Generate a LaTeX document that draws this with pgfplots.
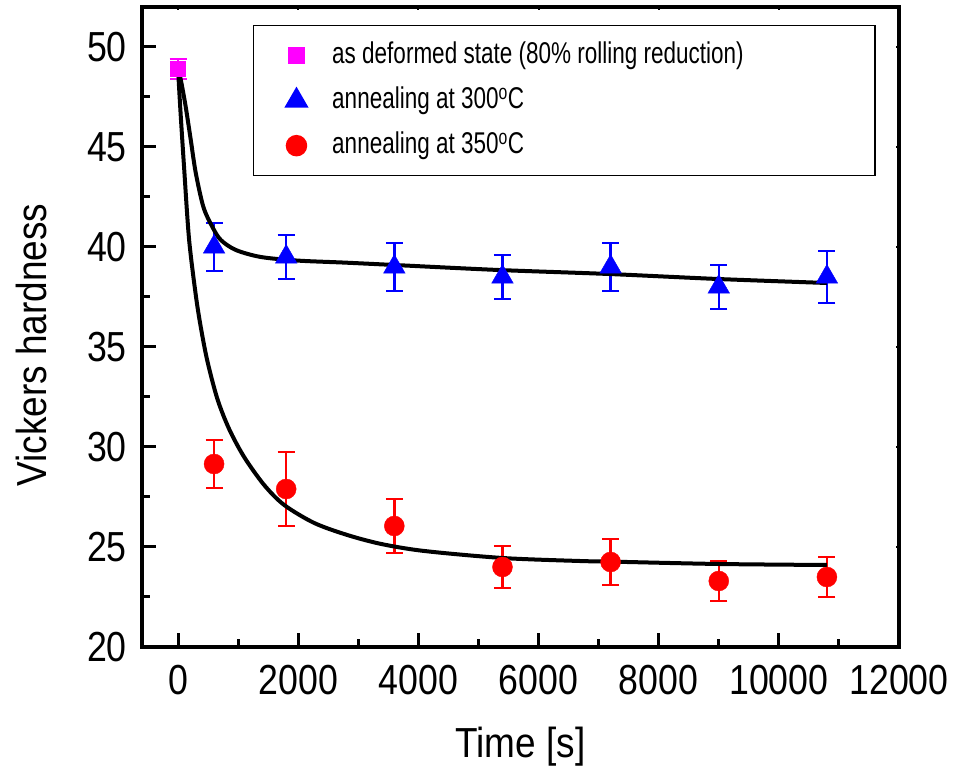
\documentclass[border=0pt]{standalone}
\usepackage{fontspec}
\setmainfont{Liberation Sans}
\newfontfamily\tickfont[FakeStretch=0.85]{Liberation Sans}
\newfontfamily\labfont[FakeStretch=0.88]{Liberation Sans}
\newfontfamily\legfont[FakeStretch=0.75]{Liberation Sans}
\usepackage{pgfplots}
\pgfplotsset{compat=1.18}
\definecolor{omag}{RGB}{255,0,255}
\definecolor{oblue}{RGB}{0,0,255}
\definecolor{ored}{RGB}{255,0,0}
\begin{document}
\begin{tikzpicture}
\useasboundingbox (0,0) rectangle (956pt,767pt);
% faint mirrored ticks on top and right
\begin{axis}[
  at={(142pt,120pt)}, anchor=south west,
  scale only axis, width=757pt, height=640pt,
  xmin=-600, xmax=12000, ymin=20, ymax=52,
  xtick={0,2000,...,12000}, ytick={20,25,...,50},
  minor x tick num=1, minor y tick num=1,
  tick pos=right, tick align=inside,
  major tick length=3pt, minor tick length=2pt,
  xticklabels={}, yticklabels={},
  scaled x ticks=false, scaled y ticks=false,
  axis line style={draw=none},
  tick style={line width=2pt, black},
]
\end{axis}
\begin{axis}[
  at={(142pt,120pt)}, anchor=south west,
  scale only axis, width=757pt, height=640pt,
  xmin=-600, xmax=12000, ymin=20, ymax=52,
  xtick={0,2000,...,12000}, ytick={20,25,...,50},
  minor x tick num=1, minor y tick num=1,
  tick pos=left, tick align=inside,
  major tick length=14pt, minor tick length=8pt,
  tick style={line width=3pt, black},
  axis line style={line width=3.5pt},
  scaled x ticks=false, scaled y ticks=false,
  /pgf/number format/1000 sep={},
  /pgf/number format/assume math mode=true,
  xticklabel style={font=\tickfont\fontsize{42}{50}\selectfont, inner sep=0pt, yshift=-18pt},
  yticklabel style={font=\tickfont\fontsize{42}{50}\selectfont, inner sep=0pt, xshift=-15pt},
  xlabel={Time [s]},
  ylabel={Vickers hardness},
  xlabel style={at={(axis description cs:0.5,-0.1719)}, anchor=base, inner sep=0pt, font=\labfont\fontsize{42}{50}\selectfont},
  ylabel style={at={(axis description cs:-0.1255,0.472)}, anchor=south, inner sep=0pt, font=\labfont\fontsize{42}{50}\selectfont},
  legend style={at={(0.1466,0.972)}, anchor=north west, draw=black, line width=1.5pt,
    font=\legfont\fontsize{30}{36}\selectfont,
    inner xsep=22pt, inner ysep=15pt, row sep=15pt, column sep=15pt,
    cells={anchor=west},
    nodes={inner sep=0pt, text depth=7pt, text height=23pt}},
  legend image code/.code={\path (-20pt,0pt) (20pt,0pt);
    \draw[#1, mark repeat=1] plot coordinates {(0pt,0pt)};},
]
\addplot[only marks, mark=square*, color=omag, mark size=7.5pt,
  error bars/.cd, y dir=both, y explicit,
  error bar style={line width=2.5pt, omag},
  error mark options={rotate=90, mark size=8.5pt, line width=2.5pt, omag}]
  table[x=x, y=y, y error=e] {
x y e
0 48.9 0.5
};
\addlegendentry{\makebox[521pt][l]{as deformed state (80\% rolling reduction)}}
\addplot[only marks, mark=triangle*, color=oblue, mark size=12.5pt,
  error bars/.cd, y dir=both, y explicit,
  error bar style={line width=2.5pt, oblue},
  error mark options={rotate=90, mark size=8.5pt, line width=2.5pt, oblue}]
  table[x=x, y=y, y error=e] {
x y e
600 40.0 1.2
1800 39.5 1.1
3600 39.0 1.2
5400 38.5 1.1
7200 39.0 1.2
9000 38.0 1.1
10800 38.5 1.3
};
\addlegendentry{\makebox[521pt][l]{annealing at 300\textsuperscript{o}C}}
\addplot[only marks, mark=*, color=ored, mark size=10pt,
  error bars/.cd, y dir=both, y explicit,
  error bar style={line width=2.5pt, ored},
  error mark options={rotate=90, mark size=8.5pt, line width=2.5pt, ored}]
  table[x=x, y=y, y error=e] {
x y e
600 29.15 1.2
1800 27.9 1.85
3600 26.05 1.35
5400 24.0 1.05
7200 24.25 1.15
9000 23.3 1.0
10800 23.5 1.0
};
\addlegendentry{\makebox[521pt][l]{annealing at 350\textsuperscript{o}C}}
% fitted curves
\addplot[forget plot, black, line width=4pt, smooth, no markers] table {
0 48.9
50 48.3
128 47.0
212 45.35
295 43.7
422 42.0
572 41.0
712 40.35
962 39.85
1378 39.5
1990 39.32
2767 39.22
3600 39.1
5333 38.85
7167 38.65
8983 38.4
10800 38.2
};
\addplot[forget plot, black, line width=4pt, smooth, no markers] table {
0 48.9
40 46.8
100 44.0
183 40.4
295 37.6
378 36.0
488 34.3
655 32.4
850 30.9
1100 29.5
1433 28.1
1767 27.1
2267 26.2
2817 25.6
3383 25.15
4100 24.8
5400 24.45
6683 24.3
7183 24.27
9000 24.15
10800 24.1
};
\end{axis}
\end{tikzpicture}
\end{document}
